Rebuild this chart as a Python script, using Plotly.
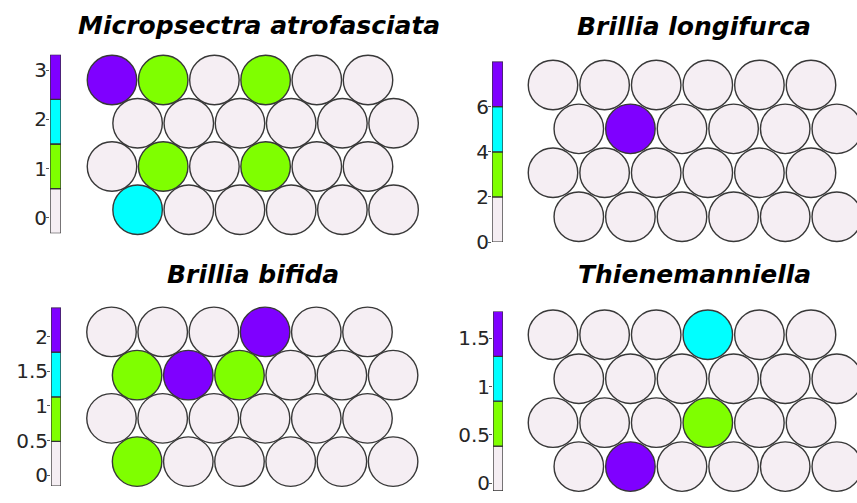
import plotly.graph_objects as go

# ---- data: SOM hit maps, 4 rows x 6 units each (row 0 at top) ----
titles = ["Micropsectra atrofasciata", "Brillia longifurca",
          "Brillia bifida", "Thienemanniella"]

grid_micropsectra = [
    [3, 1, 0, 1, 0, 0],
    [0, 0, 0, 0, 0, 0],
    [0, 1, 0, 1, 0, 0],
    [2, 0, 0, 0, 0, 0],
]
grid_longifurca = [
    [0, 0, 0, 0, 0, 0],
    [0, 7, 0, 0, 0, 0],
    [0, 0, 0, 0, 0, 0],
    [0, 0, 0, 0, 0, 0],
]
grid_bifida = [
    [0, 0, 0, 2, 0, 0],
    [1, 2, 1, 0, 0, 0],
    [0, 0, 0, 0, 0, 0],
    [1, 0, 0, 0, 0, 0],
]
grid_thienemanniella = [
    [0, 0, 0, 1.0, 0, 0],
    [0, 0, 0, 0, 0, 0],
    [0, 0, 0, 0.6, 0, 0],
    [0, 1.7, 0, 0, 0, 0],
]
grids = [grid_micropsectra, grid_longifurca, grid_bifida, grid_thienemanniella]

# colour-bar limits and tick values per panel
cbar_limits = [(-0.32, 3.32), (0.0, 8.0), (-0.155, 2.42), (-0.08, 1.78)]
cbar_ticks = [[0, 1, 2, 3], [0, 2, 4, 6], [0, 0.5, 1, 1.5, 2], [0, 0.5, 1, 1.5]]
cbar_ticktext = [["0", "1", "2", "3"], ["0", "2", "4", "6"],
                 ["0", "0.5", "1", "1.5", "2"], ["0", "0.5", "1", "1.5"]]

# ---- styling ----
palette = ["#F5EEF3", "#7FFF00", "#00FFFF", "#7F00FF"]
W, H = 857, 503
TITLE_FONT = dict(family="DejaVu Sans", size=25, color="#000000", weight="bold", style="italic")
TICK_FONT = dict(family="DejaVu Sans", size=20, color="#262626")

# layout boxes in pixels
# hex panel: (x0, x1, y_top, y_bottom, cx0, cy0, sx, sy)
hex_boxes = [
    (80, 440, 50, 245, 112.0, 82.0, 51.2, 44.3),
    (520, 857, 55, 252, 553.0, 87.0, 51.6, 45.0),
    (80, 440, 308, 503, 111.5, 340.0, 51.2, 44.3),
    (520, 857, 312, 503, 553.0, 343.0, 51.6, 45.0),
]
# colour bar: (x0, x1, y_top, y_bottom)
cbar_boxes = [
    (50, 61, 56, 239),
    (492, 503, 63, 248),
    (51, 61, 315, 498),
    (493, 503, 319, 503),
]
# title centres (x, y) in pixels
title_pos = [(259, 26), (694, 27), (253, 281), (694, 281)]


def fx(p):
    return p / W


def fy(p):
    return 1 - p / H


def step_scale(colors):
    n = len(colors)
    cs = []
    for i, c in enumerate(colors):
        cs.append([i / n, c])
        cs.append([(i + 1) / n, c])
    return cs


fig = go.Figure()
layout = dict(width=W, height=H, margin=dict(l=0, r=0, t=0, b=0),
              paper_bgcolor="white", plot_bgcolor="white", showlegend=False,
              barmode="overlay")

for k in range(4):
    grid = grids[k]
    lo, hi = cbar_limits[k]
    x0, x1, yt, yb, cx0, cy0, sx, sy = hex_boxes[k]

    xs, ys, vs = [], [], []
    for r, row in enumerate(grid):
        for c, v in enumerate(row):
            xs.append(c + 0.5 * (r % 2))
            ys.append(r)
            vs.append(v)

    hx = f"x{k + 1}"
    hy = f"y{k + 1}"
    fig.add_trace(go.Scatter(
        x=xs, y=ys, mode="markers", xaxis=hx, yaxis=hy, cliponaxis=False,
        hoverinfo="skip",
        marker=dict(size=49.5, color=vs, colorscale=step_scale(palette),
                    cmin=lo, cmax=hi, showscale=False,
                    line=dict(color="#383838", width=1.4)),
    ))
    axk = "" if k == 0 else str(k + 1)
    layout[f"xaxis{axk}"] = dict(
        domain=[fx(x0), fx(x1)], range=[(x0 - cx0) / sx, (x1 - cx0) / sx],
        visible=False, anchor=hy)
    layout[f"yaxis{axk}"] = dict(
        domain=[fy(yb), fy(yt)], range=[(yb - cy0) / sy, (yt - cy0) / sy],
        visible=False, anchor=hx)

    # colour bar drawn as stacked bar segments
    n = len(palette)
    seg = (hi - lo) / n
    bx0, bx1, byt, byb = cbar_boxes[k]
    cxn = f"x{k + 5}"
    cyn = f"y{k + 5}"
    fig.add_trace(go.Bar(
        x=[0] * n, y=[seg] * n, base=[lo + i * seg for i in range(n)],
        width=1, xaxis=cxn, yaxis=cyn, cliponaxis=False, hoverinfo="skip",
        marker=dict(color=palette, line=dict(color="#333333", width=1.3)),
    ))
    layout[f"xaxis{k + 5}"] = dict(
        domain=[fx(bx0), fx(bx1)], range=[-0.5, 0.5], visible=False, anchor=cyn)
    layout[f"yaxis{k + 5}"] = dict(
        domain=[fy(byb), fy(byt)], range=[lo, hi], anchor=cxn, side="left",
        tickmode="array", tickvals=cbar_ticks[k], ticktext=cbar_ticktext[k],
        ticks="outside", ticklen=3, tickcolor="#555555", tickwidth=1,
        ticklabelstandoff=-5,
        showline=False, showgrid=False, zeroline=False, tickfont=TICK_FONT)

    tx, ty = title_pos[k]
    fig.add_annotation(text=titles[k], x=fx(tx), y=fy(ty), xref="paper", yref="paper",
                       xanchor="center", yanchor="middle", showarrow=False,
                       font=TITLE_FONT)

fig.update_layout(**layout)
fig.write_html("out.html")
